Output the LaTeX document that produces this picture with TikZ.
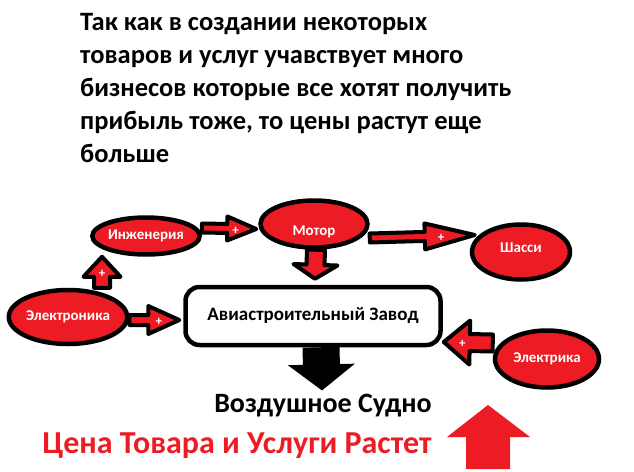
\documentclass[tikz,border=0pt]{standalone}
\usepackage{fontspec}
\setmainfont{Carlito}
\usetikzlibrary{calc,shapes.geometric,backgrounds}
\definecolor{paintred}{RGB}{237,28,36}
\tikzset{
	part/.style={ellipse, draw=black, fill=paintred, line width=4.5pt, inner sep=0pt, text=white, font=\bfseries\fontsize{15}{18}\selectfont},
	plant/.style={rectangle, rounded corners=14pt, draw=black, fill=white, line width=4.5pt, inner sep=0pt, font=\bfseries\fontsize{19}{22}\selectfont},
	fatred/.style={fill=paintred, draw=black, line width=4pt, line join=round},
	fatblack/.style={fill=black},
	plus/.style={text=white, font=\bfseries\fontsize{13}{13}\selectfont, inner sep=0pt, yshift=-2pt},
}
% thick arrow: style, from, to, half shaft, half head, head length, label, label position
\newcommand{\fatarrow}[8]{%
	\path[#1] let \p1=#2, \p2=#3, \p3=($(\p2)!#6!(\p1)$) in
		($(\p1)!#4!90:(\p2)$) -- ($(\p3)!#4!90:(\p2)$) -- ($(\p3)!#5!90:(\p2)$) -- (\p2)
		-- ($(\p3)!#5!-90:(\p2)$) -- ($(\p3)!#4!-90:(\p2)$) -- ($(\p1)!#4!-90:(\p2)$) -- cycle
		($(\p1)!#8!(\p2)$) node[plus] {#7};}
\begin{document}
\begin{tikzpicture}[x=1pt, y=-1pt]
		\useasboundingbox (0,0) rectangle (634,471);
		
		\node[anchor=north west, align=left, inner sep=0pt, font=\bfseries\fontsize{26.5}{33}\selectfont] (note) at (80,13)
			{Так как в создании некоторых\\товаров и услуг учавствует много\\бизнесов которые все хотят получить\\прибыль тоже, то цены растут еще\\больше};
		
		\node[part, minimum width=88pt, minimum height=54pt] (ele) at (68,317) {Электроника};
		\node[part, minimum width=97pt, minimum height=37pt] (eng) at (146,236) {Инженерия};
		\node[part, minimum width=107pt, minimum height=47pt, text height=22pt, text depth=0pt] (mot) at (314,224) {Мотор};
		\node[part, minimum width=98pt, minimum height=55pt, text height=4pt, text depth=2.5pt] (sha) at (521,252) {Шасси};
		\node[part, minimum width=104pt, minimum height=57pt] (elk) at (547,359) {Электрика};
		\node[plant, minimum width=255pt, minimum height=58pt] (zav) at (313,316) {Авиастроительный Завод};
		
		\node[anchor=base, inner sep=0pt, font=\bfseries\fontsize{28}{30}\selectfont] (air) at (323,412) {Воздушное Судно};
		\node[anchor=base, inner sep=0pt, text=paintred, font=\bfseries\fontsize{32}{34}\selectfont] (price) at (237,453) {Цена Товара и Услуги Растет};
		
		\begin{scope}[on background layer]
		\fatarrow{fatred}{([xshift=34pt]ele.north)}{([xshift=-44pt]eng.south)}{8pt}{18.5pt}{20pt}{+}{0.5}
		\fatarrow{fatred}{([yshift=8pt]eng.east)}{([xshift=-2pt,yshift=-5pt]mot.west)}{4.5pt}{12pt}{29pt}{+}{0.62}
		\fatarrow{fatred}{([yshift=-3pt]ele.east)}{([xshift=-4pt,yshift=-4pt]zav.west)}{5pt}{14pt}{31pt}{+}{0.59}
		\fatarrow{fatred}{([yshift=-14pt]mot.east)}{([xshift=5pt,yshift=17pt]sha.west)}{4.5pt}{13pt}{50pt}{+}{0.68}
		\fatarrow{fatred}{([xshift=2pt]mot.south)}{([xshift=2pt,yshift=6pt]zav.north)}{9pt}{22pt}{14pt}{}{0.5}
		\fatarrow{fatred}{([yshift=16pt]elk.west)}{([xshift=1pt,yshift=-26pt]zav.east)}{8.5pt}{22pt}{26pt}{+}{0.62}
		\fatarrow{fatblack}{([xshift=8pt]zav.south)}{([xshift=-1pt,yshift=3pt]air.north)}{18.5pt}{33.5pt}{26pt}{}{0.5}
		\end{scope}
		
		% rising price
		\fill[paintred] (466,469) -- (466,437) -- (447,437) -- (488,405) -- (530,437) -- (510,437) -- (510,469) -- cycle;
\end{tikzpicture}
\end{document}
